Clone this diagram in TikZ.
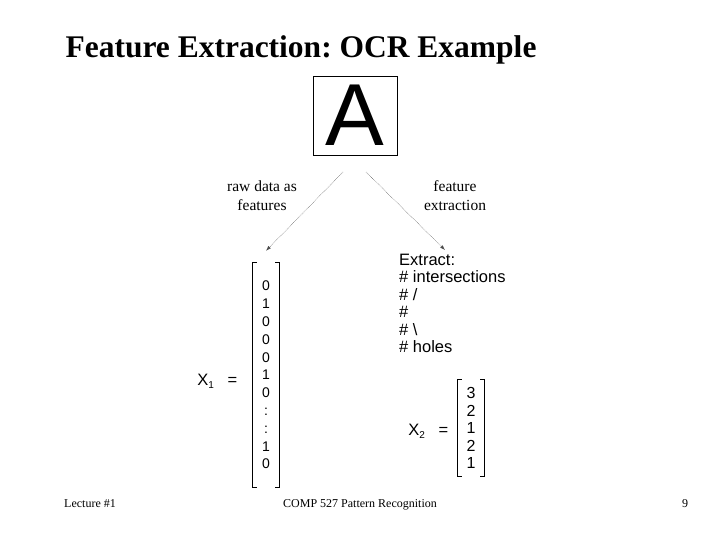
\documentclass[tikz,border=0pt]{standalone}
\usepackage{fontspec}
\setmainfont{Liberation Serif}
\setsansfont{Liberation Sans}
\usetikzlibrary{arrows.meta,positioning,calc}
\newcommand{\sub}[1]{\raisebox{-3pt}{\fontsize{10}{10}\selectfont #1}}
\frenchspacing

\begin{document}
\begin{tikzpicture}[x=1pt,y=-1pt,>={Latex[length=5pt,width=3.5pt]},
  ttl/.style={font=\fontsize{31.5}{34}\selectfont\bfseries,anchor=base west},
  foot/.style={font=\fontsize{12}{14}\selectfont,anchor=base},
  lbl/.style={font=\fontsize{15.5}{19}\selectfont,align=center},
  sf/.style={font=\sffamily\fontsize{16.5}{17.4}\selectfont},
  vec/.style={sf,align=center,inner sep=0pt},
  brk/.style={line width=0.8pt},
  arr/.style={->,black!70,line width=0.5pt,densely dotted}]
\useasboundingbox (0,0) rectangle (720,540);
% title and footer
\node[ttl] (title) at (62,58) {Feature Extraction: OCR Example};
\node[foot] (lect) at (90,507) {Lecture \#1};
\node[foot] (course) at (360,507) {COMP 527 Pattern Recognition};
\node[foot] (page) at (685,507) {9};
% the letter
\node[draw,line width=0.8pt,minimum width=84pt,minimum height=79pt,inner sep=0pt,
  font=\sffamily\fontsize{88}{88}\selectfont] (letter) at (355,115.5) {A};
\coordinate (lstart) at (343,172);
\coordinate (rstart) at (366,172);
% raw vector
\node[vec,font=\sffamily\fontsize{14}{17.8}\selectfont,minimum width=26pt,minimum height=224pt] (vecA) at (266,375)
  {0\\1\\0\\0\\0\\1\\0\\:\\:\\1\\0};
\draw[brk] ($(vecA.north west)+(4,0)$) -| (vecA.south west) -- ++(4,0);
\draw[brk] ($(vecA.north east)+(-4,0)$) -| (vecA.south east) -- ++(-4,0);
\node[sf,anchor=east] (xa) at ($(vecA.west |- 0,381)+(-12,0)$) {X\sub{1}\ \ \ =};
% features
\node[sf,align=left,anchor=north west,inner sep=0pt] (extract) at (399,254)
  {Extract:\\\# intersections\\\# /\\\#\\\# \textbackslash\\\# holes};
\node[vec,font=\sffamily\fontsize{16}{17.5}\selectfont,minimum width=26pt,minimum height=96pt] (vecB) at (471,428)
  {3\\2\\1\\2\\1};
\draw[brk] ($(vecB.north west)+(4,0)$) -| (vecB.south west) -- ++(4,0);
\draw[brk] ($(vecB.north east)+(-4,0)$) -| (vecB.south east) -- ++(-4,0);
\node[sf,anchor=east] (xb) at ($(vecB.west |- 0,431)+(-6,0)$) {X\sub{2}\ \ \ =};
% arrows
\draw[arr] (lstart) -- ($(vecA.north)+(0,-12)$) coordinate (lend);
\draw[arr] (rstart) -- (445,250) coordinate (rend);
\node[lbl] (rawlbl) at (262,196) {raw data as\\features};
\node[lbl] (featlbl) at (455,196) {feature\\extraction};
\end{tikzpicture}
\end{document}
